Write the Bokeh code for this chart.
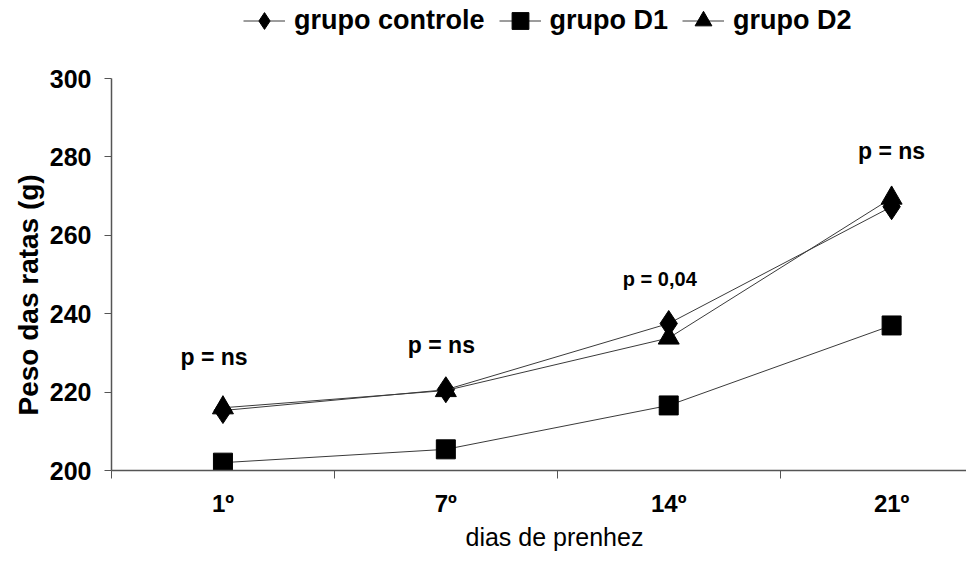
from bokeh.plotting import figure
from bokeh.models import FixedTicker, Legend, LegendItem, ColumnDataSource, Range1d, Title
from bokeh.core.properties import value
from bokeh.embed import file_html
from bokeh.resources import INLINE

days = ["1º", "7º", "14º", "21º"]
controle = [215.3, 220.6, 237.5, 267.3]
d1 = [202.0, 205.4, 216.6, 237.0]
d2 = [216.0, 220.4, 233.8, 269.5]
p_labels = ["p = ns", "p = ns", "p = 0,04", "p = ns"]
p_y = [228.9, 231.9, 248.9, 281.6]
p_x = [-0.04, 0.98, 1.96, 3.0]
y_ticks = [200, 220, 240, 260, 280, 300]
y_title = "Peso das ratas (g)"
x_title = "dias de prenhez"

FONT = "Liberation Sans"
xs = list(range(len(days)))

p = figure(width=966, height=554, x_range=Range1d(-0.5, 3.336), y_range=Range1d(200, 319.9),
           output_backend="svg", toolbar_location=None, title=None,
           min_border_left=111, min_border_right=0, min_border_top=0, min_border_bottom=84)
p.outline_line_color = None
p.xgrid.grid_line_color = None
p.ygrid.grid_line_color = None
p.background_fill_color = "white"

lc = "#3a3a3a"
r1l = p.line(xs, controle, line_color=lc, line_width=1)
r1m = p.scatter(xs, controle, marker="diamond", size=26, color="black")
r2l = p.line(xs, d1, line_color=lc, line_width=1)
r2m = p.scatter(xs, d1, marker="square", size=19, color="black")
r3l = p.line(xs, d2, line_color=lc, line_width=1)
r3m = p.scatter(xs, d2, marker="triangle", size=21, color="black")

src = ColumnDataSource(dict(x=p_x, y=p_y, t=p_labels,
                            fs=["23px", "23px", "20px", "23px"]))
p.text(x="x", y="y", text="t", source=src, text_font=value(FONT), text_font_style="bold",
       text_font_size="fs", text_align="center", text_baseline="middle", text_color="black")

# x axis
p.xaxis.ticker = FixedTicker(ticks=xs, minor_ticks=[-0.5, 0.5, 1.5, 2.5])
p.xaxis.major_label_overrides = {i: d for i, d in enumerate(days)}
p.xaxis.major_tick_out = 0
p.xaxis.major_tick_in = 0
p.xaxis.minor_tick_out = 8
p.xaxis.minor_tick_in = 0
p.xaxis.minor_tick_line_color = "#555555"
p.xaxis.axis_line_color = "#555555"
p.xaxis.axis_line_width = 1.5
p.xaxis.major_label_standoff = 11
p.xaxis.major_label_text_font = FONT
p.xaxis.major_label_text_font_style = "bold"
p.xaxis.major_label_text_font_size = "24px"
p.xaxis.major_label_text_color = "black"

# y axis
p.yaxis.ticker = FixedTicker(ticks=y_ticks)
p.yaxis.bounds = (200, 300)
p.yaxis.minor_tick_line_color = None
p.yaxis.major_tick_out = 7
p.yaxis.major_tick_in = 0
p.yaxis.major_tick_line_color = "#555555"
p.yaxis.axis_line_color = "#555555"
p.yaxis.axis_line_width = 1.5
p.yaxis.major_label_standoff = 13
p.yaxis.major_label_text_font = FONT
p.yaxis.major_label_text_font_style = "bold"
p.yaxis.major_label_text_font_size = "25px"
p.yaxis.major_label_text_color = "black"

ytitle = Title(text=y_title, align="left", offset=55, text_font=FONT,
               text_font_size="28px", text_font_style="bold", text_color="black", standoff=6)
p.add_layout(ytitle, "left")

xtitle = Title(text=x_title, align="left", offset=354, text_font=FONT,
               text_font_size="25px", text_font_style="normal", text_color="black", standoff=3)
p.add_layout(xtitle, "below")

legend = Legend(items=[
    LegendItem(label="grupo controle", renderers=[r1l, r1m]),
    LegendItem(label="grupo D1", renderers=[r2l, r2m]),
    LegendItem(label="grupo D2", renderers=[r3l, r3m]),
], orientation="horizontal", location=(132, 428))
legend.label_text_font = FONT
legend.label_text_font_style = "bold"
legend.label_text_font_size = "27px"
legend.label_text_color = "black"
legend.glyph_width = 42
legend.glyph_height = 43
legend.spacing = 14
legend.label_standoff = 9
legend.border_line_color = None
legend.background_fill_alpha = 0
legend.padding = 0
legend.margin = 0
p.add_layout(legend, "center")

open("out.html", "w").write(file_html(p, INLINE))
